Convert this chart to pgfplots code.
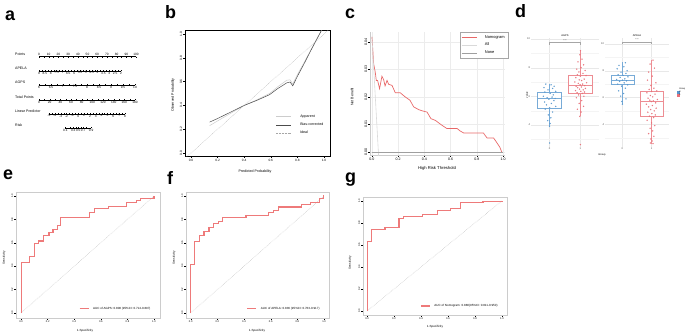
\documentclass[border=0pt]{standalone}
\usepackage{fontspec}
\setmainfont{Liberation Sans}
\usepackage{pgfplots}
\pgfplotsset{compat=1.18}
\usepgfplotslibrary{statistics}
\definecolor{cred}{RGB}{232,104,104}
\definecolor{rocred}{RGB}{238,122,122}
\definecolor{dblue}{RGB}{86,150,205}
\definecolor{dred}{RGB}{232,112,120}
\newcommand\tkf{\fontsize{3.2}{3.5}\selectfont}
\newcommand\lbf{\fontsize{3.6}{4}\selectfont}
\newcommand\lgf{\fontsize{3}{3.3}\selectfont}
\newcommand\rkf{\fontsize{2.6}{2.9}\selectfont}
\newcommand\dkf{\fontsize{2.6}{2.9}\selectfont}
\newcommand\letterf{\fontsize{18}{18}\selectfont\bfseries}
\pgfplotsset{
 base/.style={scale only axis, anchor=south west, /pgf/number format/assume math mode=true,
   scaled ticks=false,
   tick label style={font=\tkf, inner sep=0.8bp}, major tick length=1.8bp,
   every tick/.style={black, line width=0.3pt}, tick align=outside},
 rstyle/.style={base, xtick pos=left, ytick pos=left,
   yticklabel style={rotate=90, anchor=south}, xticklabel style={anchor=north}},
 nomo/.style={scale only axis, anchor=south west, height=0.4bp, ymin=0, ymax=1, hide y axis,
   axis x line*=bottom, axis line style={-, line width=0.3pt},
   /pgf/number format/assume math mode=true,
   tick label style={font=\tkf, inner sep=0.6bp}, major tick length=1.3bp, minor tick length=0.8bp,
   every tick/.style={black, line width=0.2pt}, tick align=inside},
 facet/.style={base, height=109bp, xmin=-0.6, xmax=1.6, xtick={0,1}, grid=both,
   major grid style={gray!18, line width=0.3pt}, minor grid style={gray!9, line width=0.2pt},
   axis line style={draw=none}, major tick length=0bp, minor tick length=0bp,
   tick label style={font=\dkf, text=black!70}, boxplot/draw direction=y},
 roc/.style={rstyle, xtick={0,0.2,0.4,0.6,0.8,1}, xticklabels={0.0,0.2,0.4,0.6,0.8,1.0},
   ytick={0,0.2,0.4,0.6,0.8,1}, yticklabels={0.0,0.2,0.4,0.6,0.8,1.0},
   tick label style={font=\rkf}, axis line style={gray!40, line width=0.9pt},
   legend style={draw=none, fill=none, font=\lgf, at={(0.97,0.025)}, anchor=south east},
   legend image code/.code={\draw[##1] (0bp,0bp) -- (9bp,0bp); \path (11bp,0bp);}},
}
\begin{document}
\begin{tikzpicture}
\path[use as bounding box] (0bp,0bp) rectangle (685bp,-334bp);

% ---------- panel letters
\node[anchor=base west, font=\letterf, inner sep=0] at (5bp,-20bp) {a};
\node[anchor=base west, font=\letterf, inner sep=0] at (165bp,-18bp) {b};
\node[anchor=base west, font=\letterf, inner sep=0] at (345bp,-18bp) {c};
\node[anchor=base west, font=\letterf, inner sep=0] at (515bp,-17bp) {d};
\node[anchor=base west, font=\letterf, inner sep=0] at (3bp,-179bp) {e};
\node[anchor=base west, font=\letterf, inner sep=0] at (167bp,-184bp) {f};
\node[anchor=base west, font=\letterf, inner sep=0] at (345bp,-182bp) {g};

% ---------- panel a: nomogram
\begin{axis}[nomo, at={(39bp,-57bp)}, width=97bp, xmin=0, xmax=100, xtick={0,10,...,100}, minor x tick num=1, axis x line*=top]
\end{axis}
\begin{axis}[nomo, at={(39bp,-71bp)}, width=82bp, xmin=2, xmax=9, x dir=reverse, xtick={2,2.5,...,9}, minor x tick num=1]
\end{axis}
\begin{axis}[nomo, at={(39bp,-85bp)}, width=96bp, xmin=6, xmax=10, xtick={6,6.5,...,10}, minor x tick num=1]
\end{axis}
\begin{axis}[nomo, at={(39bp,-100bp)}, width=96bp, xmin=0, xmax=180, xtick={0,20,...,180}, minor x tick num=1]
\end{axis}
\begin{axis}[nomo, at={(49bp,-114bp)}, width=76bp, xmin=-5, xmax=8, xtick={-5,-4,...,8}, minor x tick num=1]
\end{axis}
\begin{axis}[nomo, at={(65.4bp,-128bp)}, width=25.7bp, xmin=-2.1972, xmax=2.1972,
  xtick={-2.1972,-0.8473,0,0.8473,2.1972}, xticklabels={0.1,0.3,0.5,0.7,0.9},
  minor xtick={-1.3863,-0.4055,0.4055,1.3863}]
\end{axis}
\node[anchor=base west, font=\lbf, inner sep=0] at (15bp,-55bp) {Points};
\node[anchor=base west, font=\lbf, inner sep=0] at (15bp,-69bp) {APELA};
\node[anchor=base west, font=\lbf, inner sep=0] at (15bp,-83bp) {AGPS};
\node[anchor=base west, font=\lbf, inner sep=0] at (15bp,-98bp) {Total Points};
\node[anchor=base west, font=\lbf, inner sep=0] at (15bp,-112bp) {Linear Predictor};
\node[anchor=base west, font=\lbf, inner sep=0] at (15bp,-126bp) {Risk};

% ---------- panel b: calibration
\begin{axis}[rstyle, at={(185bp,-156bp)}, width=145bp, height=126bp,
  xmin=-0.045, xmax=1.045, ymin=-0.025, ymax=1.034,
  xtick={0,0.2,0.4,0.6,0.8,1}, xticklabels={0.0,0.2,0.4,0.6,0.8,1.0},
  ytick={0,0.2,0.4,0.6,0.8,1}, yticklabels={0.0,0.2,0.4,0.6,0.8,1.0},
  axis line style={line width=0.35pt},
  legend style={draw=none, fill=none, font=\lbf, at={(0.99,0.13)}, anchor=south east, row sep=0.3bp},
  legend cell align=left,
  legend image code/.code={\draw[#1] (0bp,0bp) -- (15bp,0bp); \path (22bp,0bp);}]
\addplot[gray!40, line width=0.5pt] coordinates {(0.14,0.23)(0.2,0.27)(0.3,0.335)(0.4,0.40)(0.5,0.45)(0.59,0.50)(0.65,0.555)(0.72,0.612)(0.745,0.615)(0.765,0.58)(0.8,0.66)(0.85,0.76)(0.9,0.865)(0.95,0.97)(0.99,1.05)};
\addlegendentry{Apparent}
\addplot[black!70, line width=0.5pt] coordinates {(0.14,0.26)(0.2,0.29)(0.3,0.345)(0.4,0.40)(0.5,0.445)(0.59,0.49)(0.65,0.54)(0.72,0.59)(0.745,0.597)(0.765,0.565)(0.8,0.645)(0.85,0.75)(0.9,0.86)(0.95,0.965)(0.99,1.05)};
\addlegendentry{Bias-corrected}
\addplot[gray!70, densely dotted, line width=0.45pt] coordinates {(-0.05,-0.05)(1.05,1.05)};
\addlegendentry{Ideal}
\end{axis}
\node[font=\lbf] at (255bp,-172bp) {Predicted Probability};
\node[font=\lbf, rotate=90] at (173bp,-95bp) {Observed Probability};

% ---------- panel c: decision curve
\begin{axis}[rstyle, at={(370bp,-155bp)}, width=135bp, height=123bp,
  xmin=-0.015, xmax=1.015, ymin=-0.0011, ymax=0.0436,
  xtick={0,0.2,0.4,0.6,0.8,1}, xticklabels={0.0,0.2,0.4,0.6,0.8,1.0},
  ytick={0,0.01,0.02,0.03,0.04}, yticklabels={0.00,0.01,0.02,0.03,0.04},
  scaled y ticks=false,
  tick label style={font=\lbf},
  grid=major, major grid style={gray!15, line width=0.3pt},
  axis x line*=bottom, axis y line*=left, axis line style={-, gray!40, line width=0.3pt},
  legend style={draw=gray!70, line width=0.4pt, fill=white, font=\fontsize{4}{4.4}\selectfont,
    at={(1.022,1.0)}, anchor=north east, row sep=-0.6bp, inner sep=1.2bp},
  legend cell align=left,
  legend image code/.code={\draw[#1] (0bp,0bp) -- (15bp,0bp); \path (21bp,0bp);}]
\addplot[cred, line width=0.7pt] coordinates {(0,0.0418)(0.013,0.032)(0.025,0.029)(0.033,0.026)(0.043,0.026)(0.058,0.023)(0.076,0.0275)(0.089,0.0263)(0.1,0.024)(0.115,0.026)(0.127,0.0246)(0.153,0.0242)(0.178,0.0215)(0.216,0.0215)(0.254,0.020)(0.29,0.0188)(0.318,0.0164)(0.356,0.0154)(0.38,0.015)(0.42,0.0145)(0.45,0.0121)(0.483,0.0115)(0.534,0.0097)(0.572,0.0085)(0.65,0.0085)(0.674,0.0076)(0.70,0.0069)(0.85,0.0069)(0.878,0.0051)(0.928,0.0051)(0.975,0.0018)(0.99,0.0)};
\addlegendentry{Nomogram}
\addplot[gray!30, line width=0.6pt] coordinates {(0,0.0418)(0.06,-0.0095)};
\addlegendentry{All}
\addplot[gray!75, line width=0.7pt] coordinates {(0,0)(1,0)};
\addlegendentry{None}
\end{axis}
\node[font=\fontsize{4.2}{4.6}\selectfont] at (437bp,-168bp) {High Risk Threshold};
\node[font=\lbf, rotate=90] at (352bp,-97bp) {Net Benefit};

% ---------- panel d: boxplots
\begin{axis}[facet, at={(531bp,-147bp)}, width=68bp, ymin=2.46, ymax=10.07, ytick={4,6,8,10}, minor ytick={3,5,7,9}]
\addplot[dblue!80, line width=0.5pt, fill=white, forget plot, boxplot prepared={draw position=0, lower whisker=3.9, lower quartile=5.14, median=5.84, upper quartile=6.28, upper whisker=6.86, box extend=0.78, whisker extend=0}] coordinates {};
\addplot[dred!80, line width=0.5pt, fill=white, forget plot, boxplot prepared={draw position=1, lower whisker=4.6, lower quartile=6.23, median=6.74, upper quartile=7.44, upper whisker=9.19, box extend=0.78, whisker extend=0}] coordinates {};
\addplot[only marks, mark=*, mark size=0.5bp, dblue, opacity=0.8, forget plot] coordinates {(-0.12,6.85)(0.05,6.8)(0.15,6.7)(-0.18,6.6)(0.1,6.55)(-0.05,6.45)(0.2,6.35)(-0.15,6.3)(0.02,6.2)(0.12,6.1)(-0.2,6.0)(0.08,5.95)(-0.08,5.9)(0.18,5.85)(-0.02,5.8)(0.14,5.7)(-0.16,5.6)(0.06,5.5)(-0.1,5.4)(0.2,5.3)(0.0,5.2)(-0.14,5.1)(0.1,4.9)(-0.04,4.7)(0.04,4.5)(-0.06,4.3)(0.02,4.1)(0.0,3.9)(0.0,2.74)};
\addplot[only marks, mark=*, mark size=0.5bp, dred, opacity=0.8, forget plot] coordinates {(1.0,9.19)(0.98,8.9)(1.05,8.6)(0.92,8.4)(1.1,8.2)(1.02,8.0)(0.88,7.9)(1.15,7.8)(0.95,7.7)(1.08,7.6)(0.9,7.5)(1.18,7.45)(1.0,7.4)(0.85,7.3)(1.12,7.2)(0.96,7.15)(1.04,7.1)(0.82,7.0)(1.2,6.95)(0.93,6.9)(1.07,6.85)(0.99,6.8)(1.14,6.75)(0.86,6.7)(1.03,6.65)(0.91,6.6)(1.16,6.55)(0.97,6.5)(1.09,6.45)(0.84,6.4)(1.01,6.35)(1.13,6.3)(0.89,6.25)(1.06,6.2)(0.94,6.1)(1.11,6.0)(0.87,5.9)(1.04,5.7)(0.96,5.5)(1.1,5.3)(0.9,5.1)(1.02,4.9)(0.98,4.6)(1.0,2.63)};
\addplot[gray!70, line width=0.4pt, forget plot] coordinates {(0,9.6)(0,9.77)(1,9.77)(1,9.6)};
\node[font=\dkf, text=black!70] at (axis cs:0.5,9.92) {***};
\end{axis}
\begin{axis}[facet, at={(605bp,-147bp)}, width=64bp, ymin=2.3, ymax=10.45, ytick={4,6,8,10}, minor ytick={3,5,7,9},
  legend style={draw=none, fill=none, font=\fontsize{2.3}{2.6}\selectfont, at={(1.0,0.5)}, anchor=west, row sep=-1.2bp, inner sep=0.3bp,
    nodes={inner sep=0.4bp}}, legend cell align=left]
\addplot[dblue!80, line width=0.5pt, fill=white, forget plot, boxplot prepared={draw position=0, lower whisker=5.5, lower quartile=6.975, median=7.3, upper quartile=7.675, upper whisker=8.625, box extend=0.78, whisker extend=0}] coordinates {};
\addplot[dred!80, line width=0.5pt, fill=white, forget plot, boxplot prepared={draw position=1, lower whisker=2.55, lower quartile=4.6, median=5.725, upper quartile=6.475, upper whisker=8.8, box extend=0.78, whisker extend=0}] coordinates {};
\addplot[only marks, mark=*, mark size=0.5bp, dblue, opacity=0.8, forget plot] coordinates {(0.1,8.6)(-0.12,8.4)(0.05,8.3)(-0.18,8.15)(0.16,8.0)(-0.05,7.9)(0.12,7.8)(-0.15,7.7)(0.02,7.65)(0.19,7.55)(-0.08,7.5)(0.08,7.4)(-0.2,7.35)(0.0,7.3)(0.14,7.25)(-0.1,7.2)(0.06,7.1)(-0.16,7.0)(0.18,6.95)(-0.03,6.85)(0.1,6.7)(-0.13,6.5)(0.04,6.3)(-0.06,6.1)(0.12,5.9)(-0.02,5.7)(0.0,5.5)};
\addplot[only marks, mark=*, mark size=0.5bp, dred, opacity=0.8, forget plot] coordinates {(1.05,8.8)(0.95,8.5)(1.1,8.2)(0.9,7.9)(1.02,7.6)(0.86,7.3)(1.15,7.1)(0.98,6.9)(1.08,6.7)(0.92,6.6)(1.18,6.5)(1.0,6.45)(0.84,6.35)(1.12,6.25)(0.96,6.15)(1.04,6.05)(0.88,5.95)(1.2,5.85)(0.94,5.8)(1.06,5.75)(0.99,5.7)(1.14,5.6)(0.82,5.5)(1.03,5.4)(0.9,5.3)(1.16,5.2)(0.97,5.1)(1.09,5.0)(0.87,4.9)(1.01,4.8)(1.13,4.7)(0.93,4.6)(1.07,4.5)(0.85,4.3)(1.0,4.1)(1.11,3.9)(0.95,3.7)(1.04,3.5)(0.9,3.3)(1.08,3.1)(0.98,2.9)(1.02,2.75)(0.96,2.6)(1.05,2.55)};
\addplot[gray!70, line width=0.4pt, forget plot] coordinates {(0,9.98)(0,10.15)(1,10.15)(1,9.98)};
\node[font=\dkf, text=black!70] at (axis cs:0.5,10.3) {***};
\addlegendimage{empty legend}\addlegendentry{Group}
\addlegendimage{only marks, mark=square*, mark size=0.9bp, dblue}\addlegendentry{0}
\addlegendimage{only marks, mark=square*, mark size=0.9bp, dred}\addlegendentry{1}
\end{axis}
\node[font=\dkf] at (565bp,-36bp) {AGPS};
\node[font=\dkf] at (637bp,-36bp) {APELA};
\node[font=\dkf, rotate=90] at (527bp,-95bp) {value};
\node[font=\dkf] at (602bp,-155bp) {Group};

% ---------- panel e
\begin{axis}[roc, at={(16bp,-318bp)}, width=144bp, height=126bp, xmin=-0.038, xmax=1.045, ymin=-0.043, ymax=1.034]
\addplot[gray!50, densely dotted, line width=0.5pt, forget plot] coordinates {(0,0)(1,1)};
\addplot[rocred, line width=1.1pt] coordinates {(0,0)(0,0.433)(0.065,0.433)(0.065,0.48)(0.1,0.48)(0.1,0.595)(0.13,0.595)(0.13,0.615)(0.17,0.615)(0.17,0.663)(0.21,0.663)(0.21,0.686)(0.24,0.686)(0.24,0.717)(0.275,0.717)(0.275,0.748)(0.3,0.748)(0.3,0.816)(0.515,0.816)(0.515,0.856)(0.55,0.856)(0.55,0.892)(0.66,0.892)(0.66,0.912)(0.795,0.912)(0.795,0.943)(0.865,0.943)(0.865,0.963)(0.895,0.963)(0.895,0.975)(1,0.975)(1,1)};
\addlegendentry{AUC of AGPS: 0.808 (95\%CI: 0.714-0.897)}
\end{axis}
\node[font=\lgf, rotate=90] at (4bp,-258bp) {Sensitivity};
\node[font=\lgf] at (85bp,-331bp) {1-Specificity};

% ---------- panel f
\begin{axis}[roc, at={(186bp,-318bp)}, width=143bp, height=126bp, xmin=-0.035, xmax=1.037, ymin=-0.043, ymax=1.034]
\addplot[gray!50, densely dotted, line width=0.5pt, forget plot] coordinates {(0,0)(1,1)};
\addplot[rocred, line width=1.1pt] coordinates {(0,0)(0,0.416)(0.0275,0.416)(0.0275,0.609)(0.065,0.609)(0.065,0.66)(0.1,0.66)(0.1,0.697)(0.1375,0.697)(0.1375,0.728)(0.17,0.728)(0.17,0.765)(0.2075,0.765)(0.2075,0.782)(0.2375,0.782)(0.2375,0.816)(0.415,0.816)(0.415,0.833)(0.5825,0.833)(0.5825,0.856)(0.62,0.856)(0.62,0.873)(0.6575,0.873)(0.6575,0.906)(0.8275,0.906)(0.8275,0.929)(0.895,0.929)(0.895,0.943)(0.9625,0.943)(0.9625,0.977)(0.995,0.977)(0.995,1)(1,1)};
\addlegendentry{AUC of APELA: 0.836 (95\%CI: 0.763-0.917)}
\end{axis}
\node[font=\lgf, rotate=90] at (174bp,-258bp) {Sensitivity};
\node[font=\lgf] at (257bp,-331bp) {1-Specificity};

% ---------- panel g
\begin{axis}[roc, at={(363bp,-315bp)}, width=144bp, height=118bp, xmin=-0.03, xmax=1.037, ymin=-0.036, ymax=1.034]
\addplot[gray!50, densely dotted, line width=0.5pt, forget plot] coordinates {(0,0)(1,1)};
\addplot[rocred, line width=1.1pt] coordinates {(0,0)(0,0.633)(0.035,0.633)(0.035,0.739)(0.133,0.739)(0.133,0.755)(0.237,0.755)(0.237,0.839)(0.267,0.839)(0.267,0.861)(0.41,0.861)(0.41,0.876)(0.519,0.876)(0.519,0.912)(0.62,0.912)(0.62,0.93)(0.691,0.93)(0.691,0.982)(0.859,0.982)(0.859,0.997)(1,0.997)(1,1)};
\addlegendentry{AUC of Nomogram: 0.880(95\%CI: 0.811-0.950)}
\end{axis}
\node[font=\lgf, rotate=90] at (350bp,-263bp) {Sensitivity};
\node[font=\lgf] at (435bp,-327bp) {1-Specificity};
\end{tikzpicture}
\end{document}
